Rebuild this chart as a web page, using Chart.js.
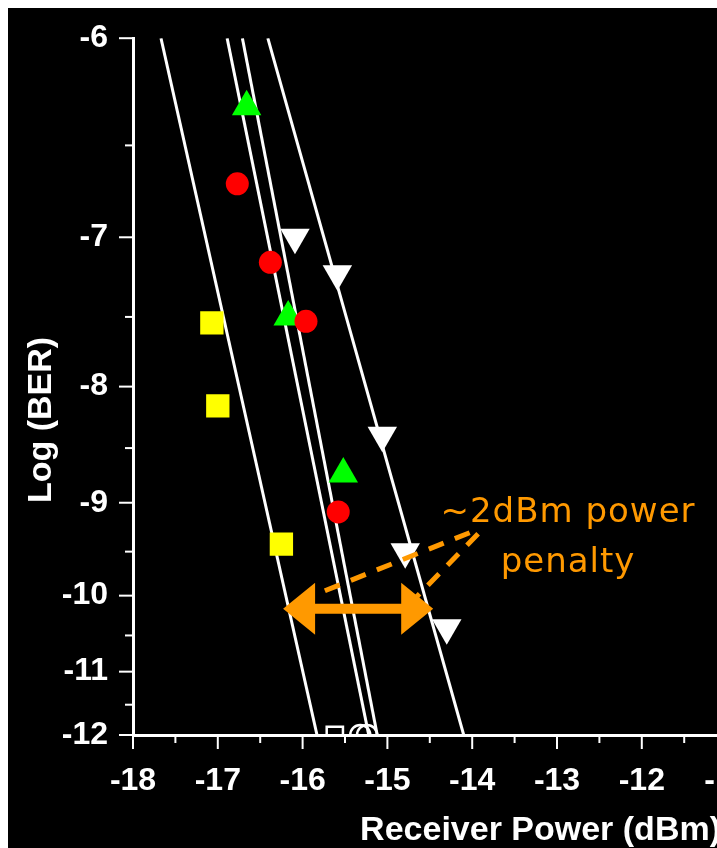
<!DOCTYPE html>
<html>
<head>
<meta charset="utf-8">
<script src="https://cdn.jsdelivr.net/npm/chart.js@4.4.1/dist/chart.umd.min.js"></script>
<style>
  html, body { margin: 0; padding: 0; background: #fff; width: 717px; height: 848px; overflow: hidden; }
  #wrap { position: absolute; left: 8px; top: 8px; width: 760px; height: 840px; background: #000; }
</style>
</head>
<body>
<div id="wrap"><canvas id="chart" width="760" height="840"></canvas></div>
<script>
// axis ticks (major + minor halves)
let xTicks = [-18, -17.5, -17, -16.5, -16, -15.5, -15, -14.5, -14, -13.5, -13, -12.5, -12, -11.5, -11]
let yTicks = [-12, -11.5, -11, -10.5, -10, -9.5, -9, -8.5, -8, -7.5, -7, -6.5, -6]

// measured points: receiver power (dBm) / log(BER)
let squarePower = [-17.07, -17.0, -16.25]
let squareBer = [-7.54, -8.15, -9.42]
let circlePower = [-16.77, -16.38, -15.96, -15.58]
let circleBer = [-6.70, -7.15, -7.53, -9.09]
let upTriPower = [-16.66, -16.17, -15.52]
let upTriBer = [-6.31, -7.50, -8.73]
let downTriPower = [-16.09, -15.59, -15.06, -14.79, -14.30]
let downTriBer = [-7.00, -7.22, -8.39, -9.50, -10.40]

// error free points sitting on the bottom edge
let freeSquarePower = [-15.62]
let freeCirclePower = [-15.32, -15.24]
let freeBer = -12

// fitted lines, power at log(BER) = -6 and -12
let fitBer = [-6, -12]
let fitSquare = [-17.67, -15.83]
let fitCircle = [-16.89, -15.22]
let fitUpTri = [-16.71, -15.12]
let fitDownTri = [-16.41, -14.10]

// power penalty note
let arrowFrom = -16.23
let arrowTo = -14.46
let arrowAt = -10.16
let leaderLines = [[-14.03, -9.30, -15.88, -10.00], [-13.93, -9.31, -14.67, -10.03]]
let noteText = ['~2dBm power', 'penalty']
let notePos = [[-12.87, -9.19], [-12.87, -9.73]]
let noteColor = '#ff9900'

function pts(xs, ys){
  return xs.map((x, i) => ({x: x, y: Array.isArray(ys) ? ys[i] : ys}))
}

// y axis of a BER plot: pixel goes with 1/value
class ReciprocalScale extends Chart.LinearScale {
  getPixelForValue(value){
    let a = 1 / this.min, b = 1 / this.max
    return this.getPixelForDecimal((1 / value - a) / (b - a))
  }
  getValueForPixel(pixel){
    let a = 1 / this.min, b = 1 / this.max
    return 1 / (a + this.getDecimalForPixel(pixel) * (b - a))
  }
}
ReciprocalScale.id = 'reciprocal'
ReciprocalScale.defaults = Chart.LinearScale.defaults
Chart.register(ReciprocalScale)

let tickFont = {family: '"Liberation Sans", Arial, sans-serif', size: 32, weight: 'bold'}

const axisMarks = {
  id: 'axisMarks',
  afterDraw(chart){
    let ctx = chart.ctx, xs = chart.scales.x, ys = chart.scales.y, area = chart.chartArea
    ctx.save()
    ctx.strokeStyle = '#fff'
    ctx.lineWidth = 2
    ys.ticks.forEach(t => {
      let p = ys.getPixelForValue(t.value)
      let len = Number.isInteger(t.value) ? 14 : 8
      ctx.beginPath(); ctx.moveTo(area.left - len, p); ctx.lineTo(area.left, p); ctx.stroke()
    })
    xs.ticks.forEach(t => {
      let p = xs.getPixelForValue(t.value)
      let len = Number.isInteger(t.value) ? 14 : 8
      ctx.beginPath(); ctx.moveTo(p, area.bottom); ctx.lineTo(p, area.bottom + len); ctx.stroke()
    })
    // axis titles
    ctx.fillStyle = '#fff'
    ctx.font = 'bold 34px "Liberation Sans", Arial, sans-serif'
    ctx.textAlign = 'right'
    ctx.textBaseline = 'alphabetic'
    ctx.fillText('Receiver Power (dBm)', 713, 832)
    ctx.translate(34, 412)
    ctx.rotate(-Math.PI / 2)
    ctx.textAlign = 'center'
    ctx.textBaseline = 'middle'
    ctx.fillText('Log (BER)', 0, 0)
    ctx.restore()
  }
}

const penaltyNote = {
  id: 'penaltyNote',
  afterDatasetsDraw(chart){
    let ctx = chart.ctx, xs = chart.scales.x, ys = chart.scales.y
    let px = v => xs.getPixelForValue(v), py = v => ys.getPixelForValue(v)
    ctx.save()
    ctx.strokeStyle = noteColor
    ctx.fillStyle = noteColor
    ctx.lineWidth = 5
    ctx.setLineDash([16, 12])
    leaderLines.forEach(l => {
      ctx.beginPath(); ctx.moveTo(px(l[0]), py(l[1])); ctx.lineTo(px(l[2]), py(l[3])); ctx.stroke()
    })
    ctx.setLineDash([])
    let x1 = px(arrowFrom), x2 = px(arrowTo), y = py(arrowAt)
    let hl = 32, hw = 26, sw = 5
    ctx.beginPath()
    ctx.moveTo(x1, y)
    ctx.lineTo(x1 + hl, y - hw); ctx.lineTo(x1 + hl, y - sw)
    ctx.lineTo(x2 - hl, y - sw); ctx.lineTo(x2 - hl, y - hw)
    ctx.lineTo(x2, y)
    ctx.lineTo(x2 - hl, y + hw); ctx.lineTo(x2 - hl, y + sw)
    ctx.lineTo(x1 + hl, y + sw); ctx.lineTo(x1 + hl, y + hw)
    ctx.closePath()
    ctx.fill()
    ctx.font = '34px "DejaVu Sans", sans-serif'
    ctx.letterSpacing = '1px'
    ctx.textAlign = 'center'
    ctx.textBaseline = 'alphabetic'
    noteText.forEach((s, i) => ctx.fillText(s, px(notePos[i][0]), py(notePos[i][1])))
    ctx.restore()
  }
}

function fitLine(xs){
  return {type: 'line', data: pts(xs, fitBer), borderColor: '#fff', borderWidth: 3,
    pointRadius: 0, showLine: true, clip: 0, order: 5}
}

let chart = new Chart(document.getElementById('chart'), {
  type: 'scatter',
  data: {
    datasets: [
      {data: pts(squarePower, squareBer), pointStyle: 'rect', pointRadius: 16.5,
        backgroundColor: '#ffff00', borderWidth: 0, clip: 0, order: 1},
      {data: pts(circlePower, circleBer), pointStyle: 'circle', pointRadius: 11.5,
        backgroundColor: '#ff0000', borderWidth: 0, clip: 0, order: 1},
      {data: pts(upTriPower, upTriBer), pointStyle: 'triangle', pointRadius: 17,
        backgroundColor: '#00ff00', borderWidth: 0, clip: 0, order: 1},
      {data: pts(downTriPower, downTriBer), pointStyle: 'triangle', rotation: 180, pointRadius: 17,
        backgroundColor: '#ffffff', borderWidth: 0, clip: 0, order: 1},
      {data: pts(freeSquarePower, freeBer), pointStyle: 'rect', pointRadius: 11.5,
        backgroundColor: '#000', borderColor: '#fff', borderWidth: 2.5, clip: 0, order: 2},
      {data: pts(freeCirclePower, freeBer), pointStyle: 'circle', pointRadius: 10,
        backgroundColor: 'rgba(0,0,0,0)', borderColor: '#fff', borderWidth: 2.5, clip: 0, order: 2},
      fitLine(fitSquare),
      fitLine(fitCircle),
      fitLine(fitUpTri),
      fitLine(fitDownTri)
    ]
  },
  options: {
    responsive: false,
    animation: false,
    layout: {padding: {left: 0, top: 30, right: 41.4, bottom: 0}},
    plugins: {legend: {display: false}, tooltip: {enabled: false}},
    scales: {
      x: {
        type: 'linear', min: -18, max: -11,
        afterBuildTicks: s => { s.ticks = xTicks.map(v => ({value: v})) },
        afterFit: s => { s.height = 113 },
        grid: {display: false, drawTicks: true, tickLength: 14},
        border: {display: true, color: '#fff', width: 3, z: 1},
        ticks: {color: '#fff', font: tickFont, padding: 13, autoSkip: false, maxRotation: 0,
          callback: v => Number.isInteger(v) ? String(v) : ''}
      },
      y: {
        type: 'reciprocal', min: -12, max: -6,
        afterBuildTicks: s => { s.ticks = yTicks.map(v => ({value: v})) },
        afterFit: s => { s.width = 125 },
        grid: {display: false, drawTicks: true, tickLength: 14},
        border: {display: true, color: '#fff', width: 3, z: 1},
        ticks: {color: '#fff', font: tickFont, padding: 11, autoSkip: false,
          callback: v => Number.isInteger(v) ? String(v) : ''}
      }
    }
  },
  plugins: [axisMarks, penaltyNote]
})
</script>
</body>
</html>
